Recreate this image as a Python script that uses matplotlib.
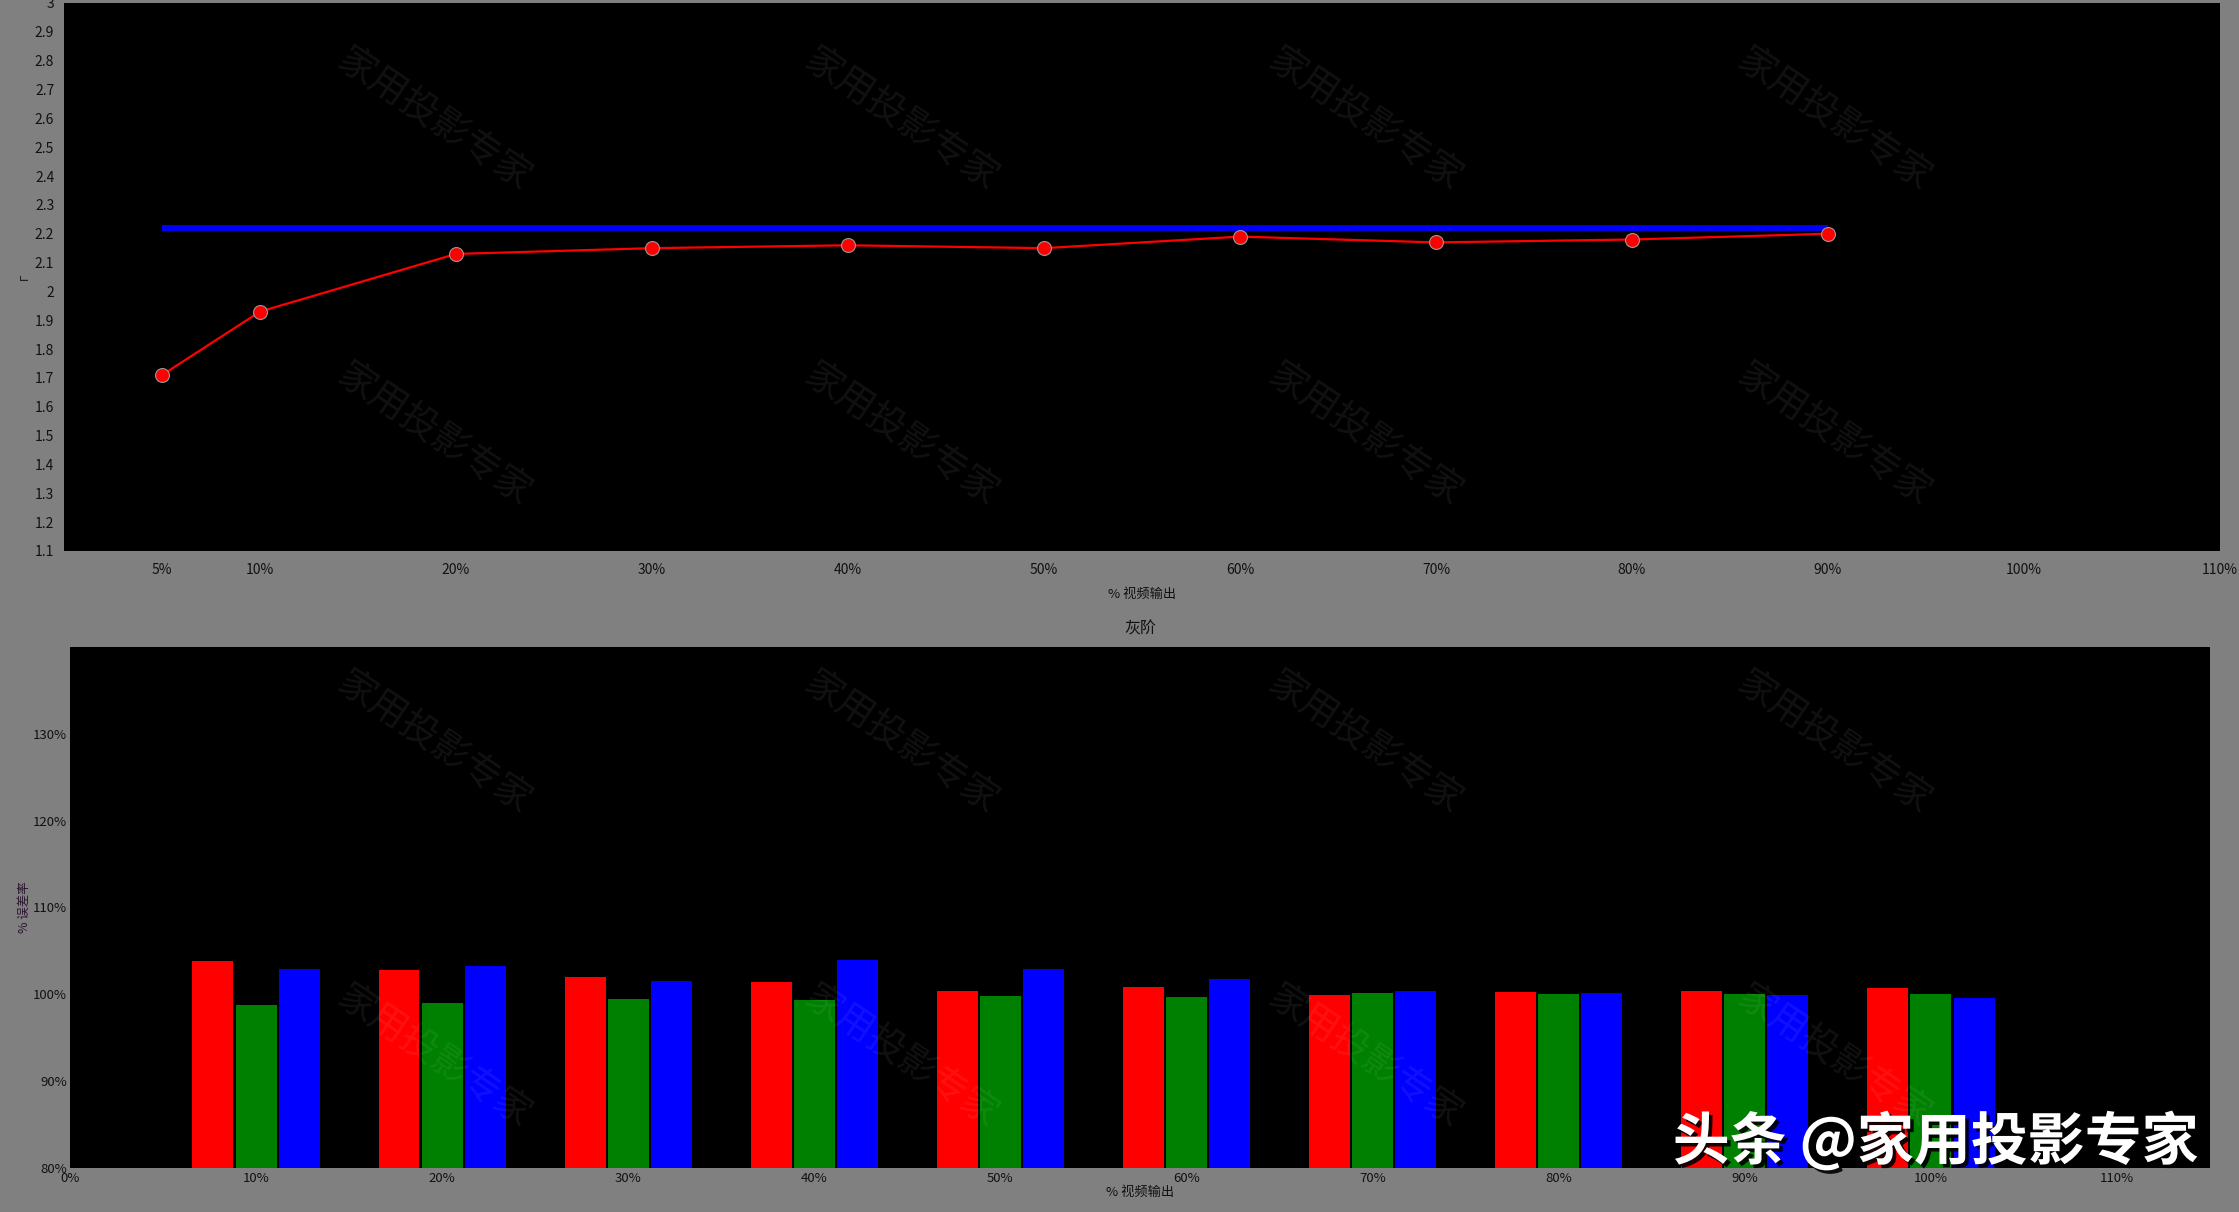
import numpy as np
import matplotlib.pyplot as plt
import matplotlib.patheffects as pe

plt.rcParams['font.family'] = ['Noto Sans CJK SC', 'DejaVu Sans']

# gamma curve (top chart)
gamma_x = [5, 10, 20, 30, 40, 50, 60, 70, 80, 90]
gamma_y = [1.71, 1.93, 2.13, 2.15, 2.16, 2.15, 2.19, 2.17, 2.18, 2.20]
target_x = [5, 90]
target_y = [2.22, 2.22]
gamma_xticks = [5, 10, 20, 30, 40, 50, 60, 70, 80, 90, 100, 110]
gamma_yticks = [1.1, 1.2, 1.3, 1.4, 1.5, 1.6, 1.7, 1.8, 1.9, 2.0,
                2.1, 2.2, 2.3, 2.4, 2.5, 2.6, 2.7, 2.8, 2.9, 3.0]

# RGB balance (bottom chart)
levels = [10, 20, 30, 40, 50, 60, 70, 80, 90, 100]
red = [103.85, 102.8, 102.0, 101.42, 100.38, 100.88, 99.88, 100.31, 100.35, 100.73]
green = [98.77, 99.04, 99.42, 99.35, 99.77, 99.73, 100.19, 100.08, 100.08, 100.0]
blue = [102.9, 103.3, 101.54, 103.96, 102.9, 101.8, 100.38, 100.19, 99.96, 99.62]
bal_xticks = [0, 10, 20, 30, 40, 50, 60, 70, 80, 90, 100, 110]
bal_yticks = [80, 90, 100, 110, 120, 130]

txt = '#111111'
fig = plt.figure(figsize=(22.39, 12.12), dpi=100, facecolor='#808080')

# ---- top: gamma ----
ax1 = fig.add_axes([64 / 2239, 1 - 551 / 1212, 2156 / 2239, 548 / 1212])
ax1.set_facecolor('black')
ax1.plot(target_x, target_y, color='#0000ff', lw=4.2, solid_capstyle='butt')
ax1.plot(gamma_x, gamma_y, color='#ff0000', lw=1.6, marker='o', ms=10,
         mfc='#ff0000', mec='#999999', mew=0.8)
ax1.set_xlim(0, 110)
ax1.set_ylim(1.1, 3.0)
ax1.set_xticks(gamma_xticks)
ax1.set_xticklabels([f'{v}%' for v in gamma_xticks])
ax1.set_yticks(gamma_yticks)
ax1.set_yticklabels([f'{v:g}' for v in gamma_yticks])
ax1.tick_params(axis='both', length=0, labelsize=10, colors=txt)
ax1.tick_params(axis='x', pad=9)
ax1.tick_params(axis='y', pad=7)
ax1.set_xlabel('% 视频输出', fontsize=9.5, color=txt)
ax1.xaxis.set_label_coords(0.5, -0.068)
ax1.set_ylabel('Γ', fontsize=8, color=txt, family='DejaVu Sans')
ax1.yaxis.set_label_coords(-0.016, 0.5)
for s in ax1.spines.values():
    s.set_visible(False)

# ---- bottom: grey scale balance ----
ax2 = fig.add_axes([70 / 2239, 1 - 1168 / 1212, 2140 / 2239, 521 / 1212])
ax2.set_facecolor('black')
w = 2.2
off = 2.32
x = np.array(levels)
ax2.bar(x - off, np.array(red) - 80, w, bottom=80, color='#ff0000')
ax2.bar(x, np.array(green) - 80, w, bottom=80, color='#008000')
ax2.bar(x + off, np.array(blue) - 80, w, bottom=80, color='#0000ff')
ax2.set_xlim(0, 115)
ax2.set_ylim(80, 140)
ax2.set_xticks(bal_xticks)
ax2.set_xticklabels([f'{v}%' for v in bal_xticks])
ax2.set_yticks(bal_yticks)
ax2.set_yticklabels([f'{v}%' for v in bal_yticks])
ax2.tick_params(axis='both', length=0, labelsize=9.5, colors=txt)
ax2.tick_params(axis='x', pad=3)
ax2.tick_params(axis='y', pad=2)
ax2.set_title('灰阶', fontsize=11.5, color=txt, pad=10)
ax2.set_xlabel('% 视频输出', fontsize=9.5, color=txt)
ax2.xaxis.set_label_coords(0.5, -0.034)
ax2.set_ylabel('% 误差率', fontsize=9, color='#2a1530')
ax2.yaxis.set_label_coords(-0.0185, 0.5)
for s in ax2.spines.values():
    s.set_visible(False)

# faint diagonal watermarks
for yy in [120, 435, 743, 1057]:
    for xx in [434, 901, 1365, 1834]:
        fig.text(xx / 2239, 1 - yy / 1212, '家用投影专家', fontsize=27,
                 color='white', alpha=0.07, rotation=-34,
                 ha='center', va='center', fontweight='light')

# big corner watermark
fig.text(2199 / 2239, 1 - 1142 / 1212, '头条 @家用投影专家', fontsize=41,
         fontweight='bold', color='white', ha='right', va='center',
         path_effects=[pe.withSimplePatchShadow(offset=(2.5, -2.5),
                                                shadow_rgbFace='black',
                                                alpha=0.9)])

fig.savefig('out.png', dpi=100, facecolor=fig.get_facecolor())
